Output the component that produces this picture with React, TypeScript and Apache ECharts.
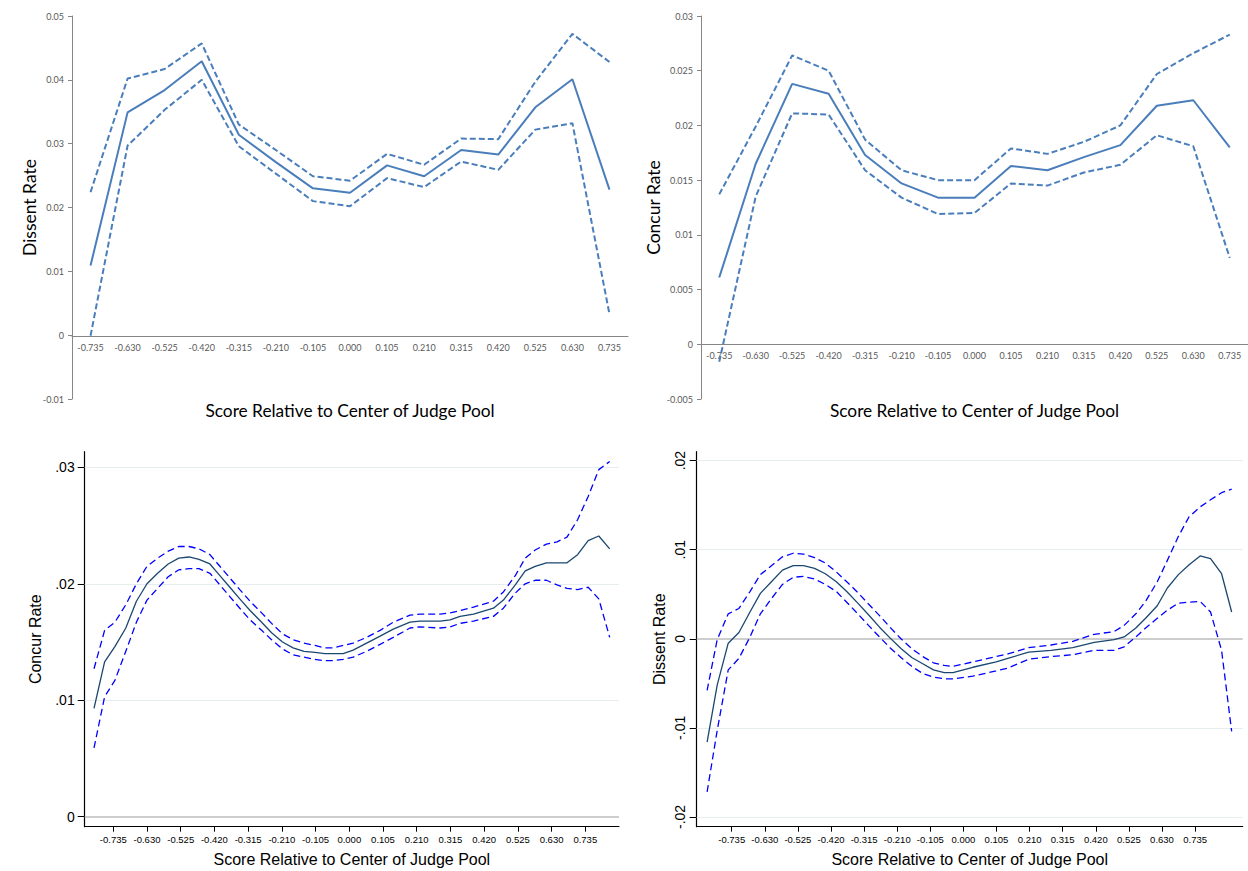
import React, { useEffect, useRef } from 'react';
import * as echarts from 'echarts';

// ---------- Top panels (binned, categorical) ----------
const scoreCats = ['-0.735', '-0.630', '-0.525', '-0.420', '-0.315', '-0.210', '-0.105', '0.000', '0.105', '0.210', '0.315', '0.420', '0.525', '0.630', '0.735'];

const dissentBinMain = [0.0109, 0.0349, 0.0384, 0.0429, 0.0314, 0.0271, 0.023, 0.0223, 0.0266, 0.0249, 0.029, 0.0283, 0.0357, 0.0401, 0.0228];
const dissentBinUpper = [0.0224, 0.0402, 0.0417, 0.0457, 0.033, 0.029, 0.0249, 0.0242, 0.0284, 0.0267, 0.0308, 0.0307, 0.0397, 0.0472, 0.0428];
const dissentBinLower = [-0.0001, 0.0297, 0.0353, 0.04, 0.0296, 0.0253, 0.021, 0.0202, 0.0246, 0.0232, 0.0272, 0.0259, 0.0322, 0.0332, 0.0033];

const concurBinMain = [0.0061, 0.0165, 0.0238, 0.0229, 0.0173, 0.0147, 0.0134, 0.0134, 0.0163, 0.0159, 0.0171, 0.0182, 0.0218, 0.0223, 0.018];
const concurBinUpper = [0.0137, 0.0199, 0.0264, 0.025, 0.0187, 0.0159, 0.015, 0.015, 0.0179, 0.0174, 0.0185, 0.02, 0.0247, 0.0266, 0.0283];
const concurBinLower = [-0.0016, 0.0135, 0.0211, 0.021, 0.0159, 0.0134, 0.0119, 0.012, 0.0147, 0.0145, 0.0157, 0.0164, 0.0191, 0.0181, 0.0079];

// ---------- Bottom panels (smoothed, continuous) ----------
const scoreTicks = [-0.735, -0.63, -0.525, -0.42, -0.315, -0.21, -0.105, 0, 0.105, 0.21, 0.315, 0.42, 0.525, 0.63, 0.735];

const concurX = [-0.795, -0.762, -0.73, -0.696, -0.663, -0.63, -0.597, -0.564, -0.531, -0.499, -0.468, -0.434, -0.403, -0.372, -0.341, -0.309, -0.273, -0.242, -0.208, -0.175, -0.141, -0.107, -0.076, -0.05, -0.019, 0.012, 0.054, 0.096, 0.137, 0.189, 0.22, 0.283, 0.314, 0.345, 0.387, 0.449, 0.48, 0.517, 0.548, 0.579, 0.614, 0.647, 0.678, 0.711, 0.744, 0.777, 0.811];
const concurSmoothMain = [0.0093, 0.0133, 0.0146, 0.0162, 0.0185, 0.02, 0.0209, 0.0217, 0.0222, 0.0223, 0.0221, 0.0217, 0.0207, 0.0197, 0.0187, 0.0177, 0.0167, 0.0158, 0.015, 0.0145, 0.0142, 0.0141, 0.014, 0.014, 0.014, 0.0143, 0.0149, 0.0155, 0.0161, 0.0167, 0.0168, 0.0168, 0.0169, 0.0172, 0.0174, 0.0179, 0.0186, 0.0199, 0.0211, 0.0215, 0.0218, 0.0218, 0.0218, 0.0225, 0.0237, 0.0241, 0.023];
const concurSmoothUpper = [0.0127, 0.016, 0.0167, 0.0182, 0.02, 0.0215, 0.0222, 0.0228, 0.0232, 0.0232, 0.023, 0.0225, 0.0215, 0.0205, 0.0195, 0.0185, 0.0175, 0.0166, 0.0157, 0.0152, 0.0149, 0.0147, 0.0145, 0.0145, 0.0147, 0.0149, 0.0154, 0.016, 0.0167, 0.0173, 0.0174, 0.0174, 0.0175, 0.0177, 0.018, 0.0185, 0.0193, 0.0207, 0.0222, 0.0229, 0.0234, 0.0236, 0.024, 0.0255, 0.0275, 0.0298, 0.0305];
const concurSmoothLower = [0.0059, 0.0103, 0.0117, 0.0142, 0.0167, 0.0186, 0.0196, 0.0206, 0.0212, 0.0213, 0.0213, 0.0209, 0.0199, 0.0189, 0.0179, 0.0169, 0.016, 0.0152, 0.0144, 0.0139, 0.0137, 0.0135, 0.0134, 0.0134, 0.0135, 0.0137, 0.0142, 0.0148, 0.0154, 0.0162, 0.0163, 0.0162, 0.0163, 0.0166, 0.0168, 0.0172, 0.0179, 0.0192, 0.02, 0.0203, 0.0203, 0.0199, 0.0196, 0.0195, 0.0197, 0.0187, 0.0154];

const dissentX = [-0.813, -0.781, -0.746, -0.712, -0.677, -0.644, -0.609, -0.574, -0.54, -0.507, -0.472, -0.438, -0.403, -0.37, -0.335, -0.301, -0.266, -0.233, -0.198, -0.164, -0.129, -0.095, -0.061, -0.033, 0.03, 0.104, 0.141, 0.207, 0.278, 0.347, 0.415, 0.478, 0.51, 0.547, 0.578, 0.615, 0.647, 0.682, 0.716, 0.751, 0.784, 0.819, 0.851];
const dissentSmoothMain = [-0.0116, -0.0052, -0.0005, 0.0007, 0.003, 0.0051, 0.0064, 0.0077, 0.0082, 0.0082, 0.0079, 0.0073, 0.0064, 0.0053, 0.004, 0.0027, 0.0013, 0.0001, -0.0011, -0.0021, -0.0028, -0.0035, -0.0038, -0.0038, -0.0032, -0.0026, -0.0022, -0.0015, -0.0013, -0.001, -0.0004, -0.0001, 0.0002, 0.0012, 0.0023, 0.0037, 0.0057, 0.0072, 0.0083, 0.0093, 0.009, 0.0073, 0.003];
const dissentSmoothUpper = [-0.0058, -0.0001, 0.0028, 0.0034, 0.0053, 0.0072, 0.0082, 0.0092, 0.0096, 0.0095, 0.0091, 0.0085, 0.0075, 0.0064, 0.0052, 0.0039, 0.0026, 0.0013, 0.0, -0.0011, -0.002, -0.0027, -0.003, -0.0031, -0.0026, -0.002, -0.0017, -0.001, -0.0007, -0.0003, 0.0005, 0.0008, 0.0015, 0.0028, 0.0042, 0.0064, 0.0088, 0.0115, 0.0137, 0.0148, 0.0156, 0.0164, 0.0168];
const dissentSmoothLower = [-0.0172, -0.0103, -0.0035, -0.0022, 0.0002, 0.0028, 0.0045, 0.0061, 0.0069, 0.007, 0.0067, 0.0061, 0.0053, 0.0041, 0.0028, 0.0015, 0.0002, -0.001, -0.0021, -0.0031, -0.0039, -0.0043, -0.0045, -0.0045, -0.0042, -0.0036, -0.0033, -0.0023, -0.002, -0.0018, -0.0013, -0.0013, -0.0009, 0.0002, 0.0012, 0.0023, 0.0032, 0.004, 0.0041, 0.0042, 0.003, -0.0013, -0.0104];

const concurYTicks = [0, 0.01, 0.02, 0.03];
const dissentYTicks = [-0.02, -0.01, 0, 0.01, 0.02];

const xTitle = 'Score Relative to Center of Judge Pool';
const excelFont = 'Lato';
const stataFont = 'Liberation Sans';
const excelBlue = '#4a7ebb';
const excelGray = '#868686';
const stataNavy = '#1a476f';
const stataBlue = '#0000ff';

const pairs = (xs: number[], ys: number[]) => xs.map((x, i) => [x, ys[i]]);

const stataYLabel = (v: number) => (v === 0 ? '0' : String(v).replace('0.', '.'));

function excelX(gi: number, offset: number, gap: number) {
  return {
    type: 'category', gridIndex: gi, data: scoreCats, boundaryGap: true, offset,
    axisLine: { onZero: false, lineStyle: { color: excelGray, width: 1 } },
    axisTick: { length: 4, interval: 0, lineStyle: { color: excelGray } },
    axisLabel: { interval: 0, fontSize: 9, color: '#595959', fontFamily: excelFont, margin: 7 },
    splitLine: { show: false },
    name: xTitle, nameLocation: 'middle', nameGap: gap,
    nameTextStyle: { fontSize: 17.3, fontFamily: excelFont, color: '#000' },
  };
}

function excelY(gi: number, min: number, max: number, interval: number, name: string, gap: number) {
  return {
    type: 'value', gridIndex: gi, min, max, interval,
    axisLine: { show: true, lineStyle: { color: excelGray, width: 1 } },
    axisTick: { show: true, length: 4, lineStyle: { color: excelGray } },
    axisLabel: { fontSize: 9, color: '#595959', fontFamily: excelFont, margin: 8 },
    splitLine: { show: false },
    name, nameLocation: 'middle', nameGap: gap, nameRotate: 90,
    nameTextStyle: { fontSize: 17.5, fontFamily: excelFont, color: '#000' },
  };
}

function stataX(gi: number, min: number, max: number) {
  return {
    type: 'value', gridIndex: gi, min, max,
    axisLine: { onZero: false, lineStyle: { color: '#000', width: 1.2 } },
    axisTick: { show: true, customValues: scoreTicks, length: 5, lineStyle: { color: '#000', width: 1 } },
    axisLabel: { customValues: scoreTicks, formatter: (v: number) => v.toFixed(3), fontSize: 9.5, color: '#000', fontFamily: stataFont, margin: 8 },
    splitLine: { show: false },
    name: xTitle, nameLocation: 'middle', nameGap: 25,
    nameTextStyle: { fontSize: 16, fontFamily: stataFont, color: '#000' },
  };
}

function stataY(gi: number, min: number, max: number, ticks: number[], name: string, gap: number, rotate: number) {
  return {
    type: 'value', gridIndex: gi, min, max,
    axisLine: { show: true, onZero: false, lineStyle: { color: '#000', width: 1.2 } },
    axisTick: { show: true, customValues: ticks, length: 7, lineStyle: { color: '#000', width: 1 } },
    axisLabel: { customValues: ticks, formatter: stataYLabel, fontSize: 14, color: '#000', fontFamily: stataFont, margin: 10, rotate },
    splitLine: { show: false },
    name, nameLocation: 'middle', nameGap: gap, nameRotate: 90,
    nameTextStyle: { fontSize: 16, fontFamily: stataFont, color: '#000' },
  };
}

function excelLine(idx: number, data: number[], dashed: boolean) {
  return {
    type: 'line', xAxisIndex: idx, yAxisIndex: idx, data, symbol: 'none', z: 10,
    lineStyle: { color: excelBlue, width: 2, type: dashed ? [6, 3] : 'solid' },
  };
}

function stataLine(idx: number, data: number[][], dashed: boolean, grid?: number[]) {
  const s: any = {
    type: 'line', xAxisIndex: idx, yAxisIndex: idx, data, symbol: 'none', z: 10,
    lineStyle: dashed ? { color: stataBlue, width: 1.3, type: [7, 4] } : { color: stataNavy, width: 1.3, type: 'solid' },
  };
  if (grid) {
    s.markLine = {
      silent: true, symbol: ['none', 'none'], label: { show: false }, animation: false,
      lineStyle: { color: '#e6edef', width: 1.2, type: 'solid' },
      data: grid.map((g) => (g === 0 ? { yAxis: g, lineStyle: { color: '#bdbdbd', width: 1.6, type: 'solid' } } : { yAxis: g })),
    };
  }
  return s;
}

export default function App() {
  const ref = useRef<HTMLDivElement>(null);
  useEffect(() => {
    const chart = echarts.init(ref.current!, null, { renderer: 'svg' });
    chart.setOption({
      animation: false,
      backgroundColor: '#fff',
      grid: [
        { left: 72, top: 16, width: 556, height: 383 },
        { left: 701, top: 16, width: 550, height: 383 },
        { left: 84.7, top: 451.7, width: 534.3, height: 375 },
        { left: 696.7, top: 451.7, width: 546, height: 375 },
      ],
      xAxis: [
        excelX(0, -63, 66),
        excelX(1, -55, 58),
        stataX(2, -0.824, 0.84),
        stataX(3, -0.846, 0.886),
      ],
      yAxis: [
        excelY(0, -0.01, 0.05, 0.01, 'Dissent Rate', 34),
        excelY(1, -0.005, 0.03, 0.005, 'Concur Rate', 38),
        stataY(2, -0.00086, 0.03134, concurYTicks, 'Concur Rate', 41, 0),
        stataY(3, -0.0211, 0.021, dissentYTicks, 'Dissent Rate', 29, 90),
      ],
      series: [
        excelLine(0, dissentBinUpper, true),
        excelLine(0, dissentBinLower, true),
        excelLine(0, dissentBinMain, false),
        excelLine(1, concurBinUpper, true),
        excelLine(1, concurBinLower, true),
        excelLine(1, concurBinMain, false),
        stataLine(2, pairs(concurX, concurSmoothLower), true, concurYTicks),
        stataLine(2, pairs(concurX, concurSmoothUpper), true),
        stataLine(2, pairs(concurX, concurSmoothMain), false),
        stataLine(3, pairs(dissentX, dissentSmoothLower), true, dissentYTicks),
        stataLine(3, pairs(dissentX, dissentSmoothUpper), true),
        stataLine(3, pairs(dissentX, dissentSmoothMain), false),
      ],
    });
    return () => chart.dispose();
  }, []);
  return (
    <div
      ref={ref}
      style={{ position: 'fixed', left: 0, top: 0, width: 1248, height: 871, background: '#fff' }}
    />
  );
}
